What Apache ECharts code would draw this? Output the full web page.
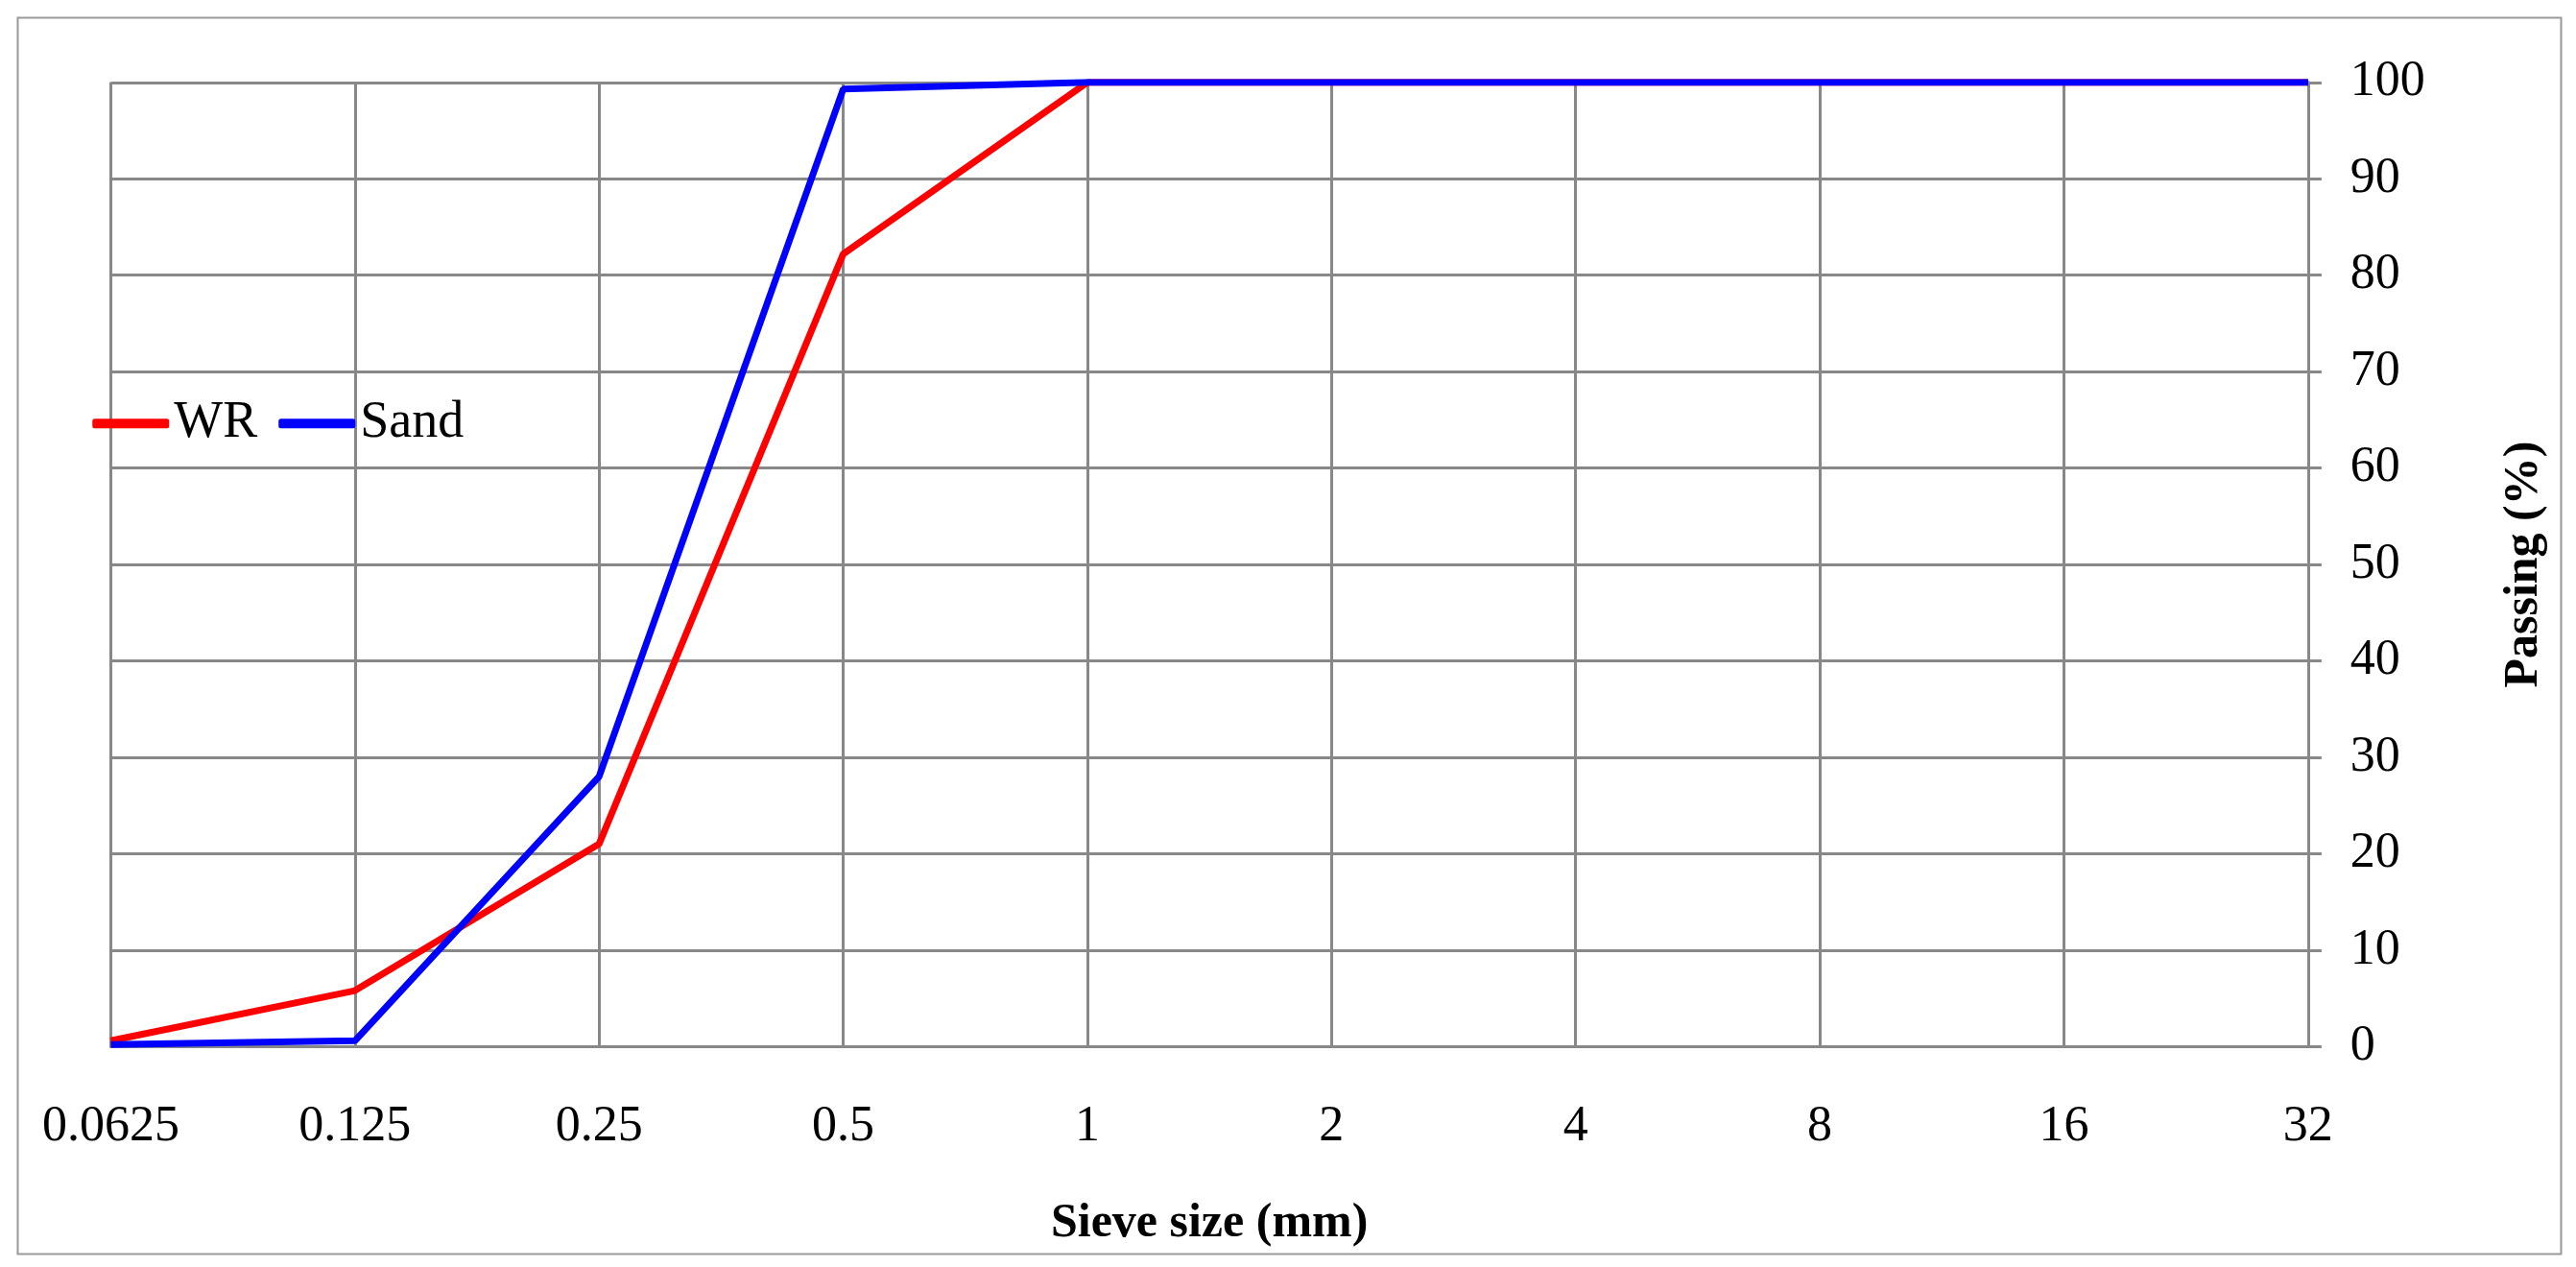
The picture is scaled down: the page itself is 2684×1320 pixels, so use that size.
<!DOCTYPE html>
<html>
<head>
<meta charset="utf-8">
<script src="https://cdn.jsdelivr.net/npm/echarts@6/dist/echarts.min.js"></script>
<style>html,body{margin:0;padding:0;background:#fff}#chart{width:2684px;height:1320px}</style>
</head>
<body>
<div id="chart"></div>
<script>
var sieveSizes = ['0.0625', '0.125', '0.25', '0.5', '1', '2', '4', '8', '16', '32'];
var wrPassing = [0.6, 5.8, 21, 82.2, 100, 100, 100, 100, 100, 100];
var sandPassing = [0.2, 0.6, 28, 99.3, 100, 100, 100, 100, 100, 100];

var font = 'Liberation Serif';
var chart = echarts.init(document.getElementById('chart'));
chart.setOption({
  animation: false,
  textStyle: {fontFamily: font, color: '#000'},
  graphic: [{
    type: 'rect', left: 16, top: 16,
    shape: {width: 2650, height: 1288},
    style: {fill: 'none', stroke: '#999', lineWidth: 2}
  }],
  legend: {
    left: '3.4%', top: '31%', itemGap: 22, itemWidth: 80, itemHeight: 10,
    textStyle: {fontSize: 54, fontFamily: font, color: '#000'},
    icon: 'roundRect',
    data: ['WR', 'Sand']
  },
  grid: {left: '4.3%', right: '10.4%', top: '6.5%', bottom: '17.4%'},
  xAxis: {
    type: 'category', data: sieveSizes, boundaryGap: false,
    name: 'Sieve size (mm)', nameLocation: 'middle', nameGap: 160,
    nameTextStyle: {fontSize: 50, fontWeight: 'bold', fontFamily: font, color: '#000'},
    axisLine: {lineStyle: {color: '#888', width: 3}},
    axisTick: {show: false},
    axisLabel: {fontSize: 52, margin: 58, color: '#000', fontFamily: font},
    splitLine: {show: true, lineStyle: {color: '#888', width: 3}}
  },
  yAxis: {
    type: 'value', position: 'right', min: 0, max: 100, interval: 10,
    name: 'Passing (%)', nameLocation: 'middle', nameGap: 200, nameRotate: 90,
    nameTextStyle: {fontSize: 50, fontWeight: 'bold', fontFamily: font, color: '#000'},
    axisLine: {show: true, lineStyle: {color: '#888', width: 3}},
    axisTick: {show: true, length: 14, lineStyle: {color: '#888', width: 3}},
    axisLabel: {fontSize: 52, margin: 44, color: '#000', fontFamily: font},
    splitLine: {show: true, lineStyle: {color: '#888', width: 3}}
  },
  series: [
    {name: 'WR', type: 'line', data: wrPassing, showSymbol: false, color: '#ff0000', lineStyle: {width: 7}},
    {name: 'Sand', type: 'line', data: sandPassing, showSymbol: false, color: '#0000ff', lineStyle: {width: 7}}
  ]
});
</script>
</body>
</html>
